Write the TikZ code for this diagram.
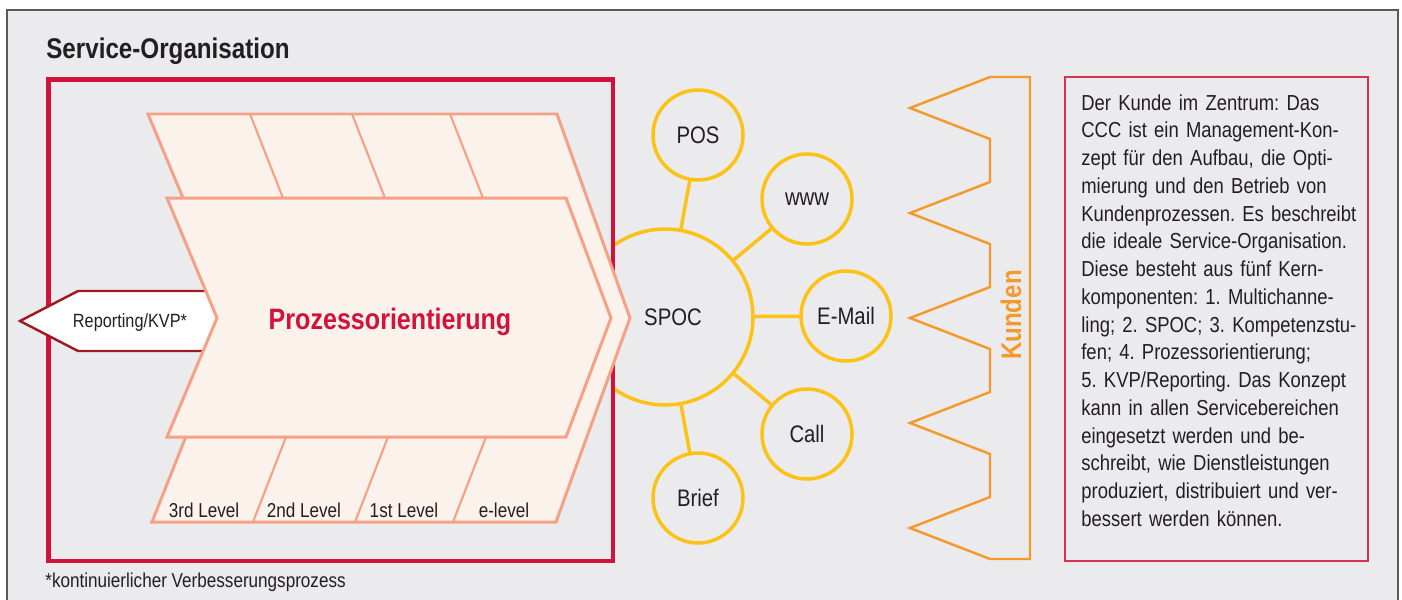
\documentclass[tikz,border=0pt]{standalone}
\usepackage{fontspec}
\setmainfont{Liberation Sans}[FakeStretch=0.85]
\usetikzlibrary{positioning}
\frenchspacing
\definecolor{bggray}{HTML}{EBEBED}
\definecolor{framegray}{HTML}{5A5A5A}
\definecolor{crimson}{HTML}{D2123A}
\definecolor{darkred}{HTML}{9E1B22}
\definecolor{salmon}{HTML}{F5A185}
\definecolor{peach}{HTML}{FBF2EC}
\definecolor{gold}{HTML}{FCC216}
\definecolor{kundorange}{HTML}{F39A2B}
\definecolor{textdark}{HTML}{231F20}
\definecolor{boxred}{HTML}{D8324E}
\tikzstyle{every node}=[text=textdark, inner sep=0pt]
\tikzstyle{band}=[draw=salmon, fill=peach, line width=1.7pt]
\tikzstyle{channel}=[circle, draw=gold, line width=2pt, minimum size=1.8cm, font=\fontsize{13.6}{16}\selectfont]
\tikzstyle{link}=[draw=gold, line width=2pt]
\tikzstyle{level}=[font=\fontsize{11.45}{13}\selectfont, text height=8.2pt, text depth=0pt]

\begin{document}
\begin{tikzpicture}[x=0.02cm, y=-0.02cm, node distance=2cm]
    \clip (0,0) rectangle (1402,599);
    \draw[framegray, line width=1.1pt, fill=bggray] (7,10) rectangle (1398,640);
    \node[anchor=base west, font=\fontsize{16.2}{19}\selectfont\bfseries] (title) at (46,58) {Service-Organisation};

    % channels round the SPOC
    \node[circle, draw=gold, line width=2pt, minimum size=3.52cm,
      label={[xshift=0.16cm, font=\fontsize{13.6}{16}\selectfont]center:SPOC}] (spoc) at (665,317) {};
    \node[channel] (pos) at (698,135) {POS};
    \node[channel] (www) at (807,199) {www};
    \node[channel] (email) at (846,316) {E-Mail};
    \node[channel] (call) at (807,434) {Call};
    \node[channel] (brief) at (698,498) {Brief};
    \draw[link] (spoc) -- (pos);
    \draw[link] (spoc) -- (www);
    \draw[link] (spoc) -- (email);
    \draw[link] (spoc) -- (call);
    \draw[link] (spoc) -- (brief);

    % service organisation
    \draw[crimson, line width=2.8pt, fill=bggray] (48.5,79.5) rectangle (613,561);
    \draw[darkred, line width=1.4pt, fill=white, line join=miter] (20,321) -- (78,291) -- (240,291) -- (240,351) -- (78,351) -- cycle;
    \draw[band] (148,114) -- (557,114) -- (630,318) -- (556,522) -- (152,522) -- (233,318) -- cycle;
    \foreach \x in {250,352,450} {
      \draw[salmon, line width=1.2pt] (\x,114) -- (\x+33,198);
      \draw[salmon, line width=1.2pt] (\x+3,522) -- (\x+36,437);
    }
    \draw[band] (167,198) -- (566,198) -- (611,318) -- (566,437) -- (167,437) -- (217,318) -- cycle;
    \node[anchor=base, font=\fontsize{10.9}{13}\selectfont] (report) at (130,327) {Reporting/KVP*};
    \node[anchor=base, font=\fontsize{16.8}{20}\selectfont\bfseries, text=crimson] (prozess) at (390,329) {Prozessorientierung};
    \node[level] (third) at (204,510) {3rd Level};
    \node[level, right of=third] (second) {2nd Level};
    \node[level, right of=second] (first) {1st Level};
    \node[level, right of=first] (elevel) {e-level};
    \node[anchor=base west, font=\fontsize{11.45}{13}\selectfont] (footnote) at (45,587) {*kontinuierlicher Verbesserungsprozess};

    % customers
    \draw[kundorange, line width=1.4pt] (1030,77) -- (990,77)
      \foreach \c in {108,213,318,423,528} { -- (990,\c-31) -- (910,\c) -- (990,\c+31) }
      -- (1030,559) -- cycle;
    \node[anchor=base, rotate=90, font=\fontsize{16.1}{19}\selectfont\bfseries, text=kundorange] (kunden) at (1021,315) {Kunden};

    % text box
    \draw[boxred, line width=0.7pt] (1065,77) rectangle (1368,561);
    \node[anchor=base west, text width=5.9cm, align=left, font=\fontsize{12.35}{15.8}\selectfont] (blurb) at (1081,110) {%
      Der Kunde im Zentrum: Das\\
      CCC ist ein Management-Kon-\\
      zept für den Aufbau, die Opti-\\
      mierung und den Betrieb von\\
      Kundenprozessen. Es beschreibt\\
      die ideale Service-Organisation.\\
      Diese besteht aus fünf Kern-\\
      komponenten: 1. Multichanne-\\
      ling; 2. SPOC; 3. Kompetenzstu-\\
      fen; 4. Prozessorientierung;\\
      5. KVP/Reporting. Das Konzept\\
      kann in allen Servicebereichen\\
      eingesetzt werden und be-\\
      schreibt, wie Dienstleistungen\\
      produziert, distribuiert und ver-\\
      bessert werden können.};
\end{tikzpicture}
\end{document}
